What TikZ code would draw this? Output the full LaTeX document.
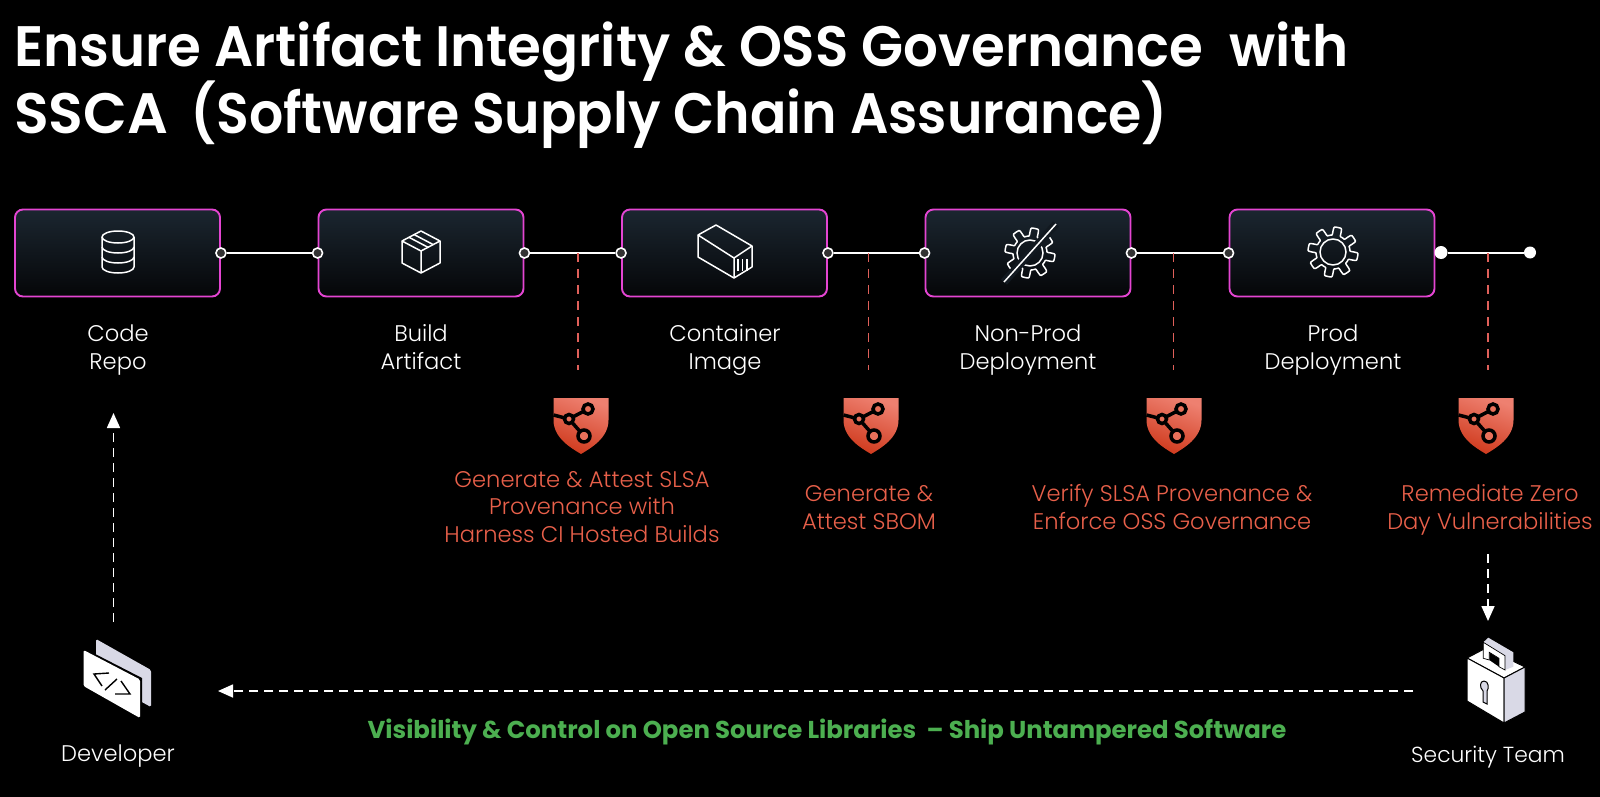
\documentclass[tikz,border=0pt]{standalone}
\usepackage{fontspec}
\setmainfont{Poppins}
\newfontfamily\titlefont{Poppins SemiBold}
\newfontfamily\labelfont{Poppins Light}
\usetikzlibrary{arrows.meta}
\definecolor{stagefill}{HTML}{1B2630}
\definecolor{stagedark}{HTML}{050608}
\definecolor{stageedge}{HTML}{E445D2}
\definecolor{tapline}{HTML}{E0605A}
\definecolor{tapfont}{HTML}{E8604A}
\definecolor{shieldtop}{HTML}{EE8070}
\definecolor{shieldlow}{HTML}{CF3A1D}
\definecolor{shieldmid}{HTML}{E8705A}
\definecolor{shipgreen}{HTML}{4CAF50}
\definecolor{pagegray}{HTML}{D9D9E6}
\definecolor{portfill}{HTML}{333333}
\begin{document}
\begin{tikzpicture}[
  x=1pt, y=-1pt,
  stagebox/.style={rectangle, rounded corners=8pt, draw=stageedge, line width=1.9pt,
              top color=stagefill, bottom color=stagedark, minimum width=205pt,
              minimum height=87pt, inner sep=0pt},
  stagelab/.style={anchor=base, text=white, align=center, font=\labelfont\fontsize{22.6}{27.5}\selectfont},
  taplab/.style={anchor=base, text=tapfont, align=center, font=\labelfont\fontsize{22.6}{27.5}\selectfont},
  titlelab/.style={anchor=base west, inner sep=0pt, text=white, font=\titlefont\fontsize{57}{57}\selectfont},
  port/.style={circle, draw=white, fill=portfill, line width=1.6pt, minimum size=10pt, inner sep=0pt},
  endport/.style={circle, fill=white, minimum size=13pt, inner sep=0pt},
  wire/.style={draw=white, line width=2pt},
  tap/.style={draw=tapline, line width=1.5pt, dash pattern=on 9pt off 7pt},
  flow/.style={draw=white, line width=1.6pt, dash pattern=on 9pt off 6pt, -{Stealth[length=15pt, width=13pt, inset=0pt]}},
  icon/.style={draw=white, line width=1.5pt, line join=round},
  pics/database/.style={code={
    \draw[icon] (0,-15) ellipse[x radius=16, y radius=6];
    \draw[icon] (-16,-15) -- (-16,15) arc[start angle=180, end angle=0, x radius=16, y radius=6] -- (16,-15);
    \foreach \yy in {-5,5} \draw[icon] (-16,\yy) arc[start angle=180, end angle=0, x radius=16, y radius=6];
  }},
  pics/cube/.style={code={
    \draw[icon] (0,-21) -- (19,-11) -- (19,11) -- (0,21) -- (-19,11) -- (-19,-11) -- cycle;
    \draw[icon] (-19,-11) -- (0,-1) -- (19,-11) (0,-1) -- (0,21);
    \draw[icon] (-12,-14.7) -- (7,-4.7) (-7,-17.5) -- (12,-7.5);
  }},
  pics/boxcar/.style={code={
    \draw[icon] (-9,-27) -- (-27,-17) -- (-27,5) -- (9,26) -- (27,15) -- (27,-6) -- cycle;
    \draw[icon] (-27,-17) -- (9,6) -- (27,-6) (9,6) -- (9,26);
    \foreach \xx in {13,17.5,22} \draw[draw=white, line width=1.1pt] (\xx,7) -- (\xx,19);
  }},
  pics/gear/.style={code={
    \draw[icon] plot[domain=0:360, samples=193, smooth] (\x:{21+4*max(-1,min(1,3*sin(8*\x)))});
    \draw[icon] (0,0) circle[radius=13];
  }},
  pics/gearoff/.style={code={
    \pic {gear};
    \draw[draw=stagefill!60!stagedark, line width=8pt] (26,-29) -- (-26,29);
    \draw[icon] (26,-29) -- (-26,29);
  }},
  pics/shield/.style={code={
    \shade[top color=shieldtop, bottom color=shieldlow, shading angle=-20]
      (-27.5,-28) -- (27.5,-28) -- (27.5,-6) .. controls (27.5,12) and (10,22) .. (0,28)
      .. controls (-10,22) and (-27.5,12) .. (-27.5,-6) -- cycle;
    \draw[black, line width=3.5pt] (-27.5,-11) -- (-12,-7) -- (7,-17) (-12,-7) -- (3,10);
    \draw[black, fill=shieldmid, line width=3.5pt] (-12,-7) circle[radius=4.5];
    \draw[black, fill=shieldmid, line width=3.5pt] (7,-17) circle[radius=5];
    \draw[black, fill=shieldmid, line width=3.5pt] (3,10) circle[radius=6];
  }},
  pics/devpage/.style={code={
    \fill[pagegray, rounded corners=1.5pt] (-22,-39) -- (33,-8) -- (33,29) -- (-22,-1) -- cycle;
    \fill[black] (-34.5,-30) -- (24,0) -- (24,42) -- (21,40) -- cycle;
    \fill[white, rounded corners=1.5pt] (-34.5,-28) -- (22,1.5) -- (22,40) -- (-34.5,8) -- cycle;
    \draw[black, line width=1.4pt] (-9,-5) -- (-24,-4) -- (-16,8) (-13,12) -- (-1,1) (3,3) -- (12,16) -- (-3,16);
  }},
  pics/padlock/.style={code={
    \draw[black, fill=white, line width=1pt] (-29,-22) -- (-10,-32) -- (29,-13) -- (8,-2) -- cycle;
    \fill[pagegray] (-12.7,-37.7) -- (-7.7,-42.3) -- (17.3,-27.7) -- (17.3,-13.3) -- (9,-10) -- (9,-24.3) -- cycle;
    \fill[black] (-6.7,-27.7) -- (3,-21.7) -- (3,-13.3) -- (-6.7,-20) -- cycle;
    \draw[black, fill=white, line width=.7pt] (-12.7,-37.7) -- (9,-24.3) -- (9,-10) -- (3,-13.3) -- (3,-21.7) -- (-6.7,-27.7) -- (-6.7,-20) -- (-12.7,-21.7) -- cycle;
    \draw[black, fill=white, line width=1pt] (-29,-22) -- (8,-2) -- (8,43) -- (-29,21) -- cycle;
    \draw[black, fill=pagegray, line width=1pt] (8,-2) -- (29,-13) -- (29,32) -- (8,43) -- cycle;
    \draw[black, fill=pagegray, line width=1pt] (-12,1) .. controls (-7,1) and (-7,9) .. (-9,11) -- (-9,24) -- (-13,22) -- (-13,11) .. controls (-17,7) and (-16,1) .. (-12,1);
  }},
]
\useasboundingbox[fill=black] (0,0) rectangle (1600,797);
% ================= title ==========
\node[titlelab] (title1) at (14,67) {\scalebox{.96}[1]{Ensure Artifact Integrity \& OSS Governance\ \ with}};
\node[titlelab] (title2) at (14,134) {SSCA\hspace{22pt}\scalebox{.943}[1]{(Software Supply Chain Assurance)}};
% ================= stages ==========
\node[stagebox] (repo) at (117.5,253) {};
\node[stagebox] (build) at (421,253) {};
\node[stagebox] (image) at (724.5,253) {};
\node[stagebox] (nonprod) at (1028,253) {};
\node[stagebox] (prod) at (1332,253) {};
\pic at (118,252) {database};
\pic at (421,252) {cube};
\pic at (725,252) {boxcar};
\pic at (1030,253) {gearoff};
\pic at (1333,252) {gear};
\node[stagelab] (repolab) at (118,369) {Code\\Repo};
\node[stagelab] (buildlab) at (421,369) {Build\\Artifact};
\node[stagelab] (imagelab) at (725,369) {Container\\Image};
\node[stagelab] (nonprodlab) at (1028,369) {Non-Prod\\Deployment};
\node[stagelab] (prodlab) at (1333,369) {Prod\\Deployment};
% ports and wires
\node[port] (repoR) at (repo.east) {};
\node[port] (buildL) at (build.west) {};
\node[port] (buildR) at (build.east) {};
\node[port] (imageL) at (image.west) {};
\node[port] (imageR) at (image.east) {};
\node[port] (nonprodL) at (nonprod.west) {};
\node[port] (nonprodR) at (nonprod.east) {};
\node[port] (prodL) at (prod.west) {};
\node[endport] (prodR) at (1441,252.5) {};
\node[endport, minimum size=12pt] (sink) at (1530,252.5) {};
\draw[wire] (repoR) -- (buildL);
\draw[wire] (buildR) -- (imageL);
\draw[wire] (imageR) -- (nonprodL);
\draw[wire] (nonprodR) -- (prodL);
\draw[wire] (prodR) -- (sink);
% ================= checks below the wires ==========
\coordinate (tapA) at (578,253);
\coordinate (tapB) at (868.5,253);
\coordinate (tapC) at (1173.5,253);
\coordinate (tapD) at (1488,253);
\coordinate (tapAend) at (578,370);
\coordinate (tapBend) at (868.5,370);
\coordinate (tapCend) at (1173.5,370);
\coordinate (tapDend) at (1488,370);
\draw[tap] (tapA) -- (tapAend);
\draw[tap] (tapB) -- (tapBend);
\draw[tap] (tapC) -- (tapCend);
\draw[tap] (tapD) -- (tapDend);
\pic at (581,426) {shield};
\pic at (871,426) {shield};
\pic at (1174,426) {shield};
\pic at (1486,426) {shield};
\node[taplab] (slsa) at (582,542) {Generate \& Attest SLSA\\Provenance with\\Harness CI Hosted Builds};
\node[taplab] (sbom) at (869,529) {Generate \&\\Attest SBOM};
\node[taplab] (verify) at (1172,529) {Verify SLSA Provenance \&\\Enforce OSS Governance};
\node[taplab] (zero) at (1490,529) {Remediate Zero\\Day Vulnerabilities};
% ================= people ==========
\pic at (118,678) {devpage};
\pic at (1496,680) {padlock};
\node[stagelab] (developer) at (118,761) {Developer};
\node[stagelab, font=\labelfont\fontsize{21.8}{27.5}\selectfont] (security) at (1488,762) {Security Team};
\coordinate (devtop) at (113.5,622);
\coordinate (repobelow) at (113.5,413);
\coordinate (zerobelow) at (1488,554);
\coordinate (locktop) at (1488,621);
\coordinate (secleft) at (1413,691);
\coordinate (devright) at (218,691);
\draw[flow] (devtop) -- (repobelow);
\draw[flow] (zerobelow) -- (locktop);
\draw[flow] (secleft) -- (devright);
\node[anchor=base, text=shipgreen, font=\fontsize{24.4}{26}\selectfont\bfseries] (ship) at (827,738.5) {Visibility \& Control on Open Source Libraries\ \ -- Ship Untampered Software};
\end{tikzpicture}
\end{document}
